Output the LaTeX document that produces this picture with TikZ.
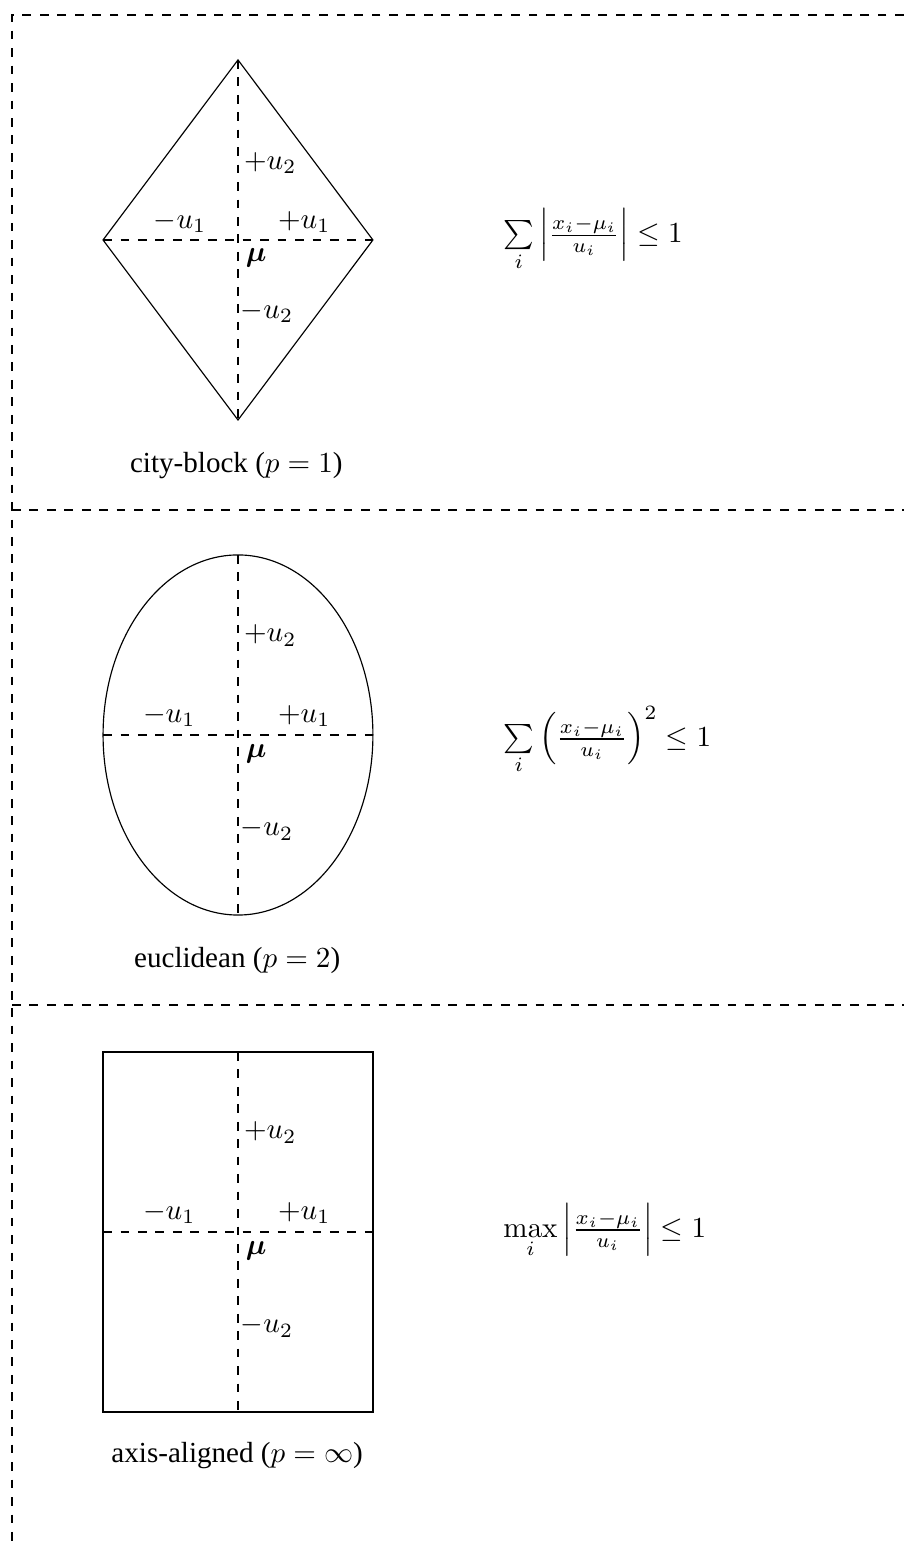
\documentclass[tikz,border=0pt]{standalone}
\usepackage[no-math]{fontspec}
\setmainfont{Liberation Serif}
\usepackage{amsmath,bm}
\usetikzlibrary{positioning, calc}
\tikzset{
  outline/.style={draw=black, line width=0.4pt},
  axis/.style={draw=black, dashed, line width=0.4pt},
  frame/.style={draw=black, dashed, line width=0.4pt},
  lbl/.style={inner sep=0pt, font=\normalsize},
  formula/.style={anchor=west, inner sep=0pt},
  caption/.style={inner sep=0pt, align=center},
}

\begin{document}
\begin{tikzpicture}
  \useasboundingbox (0,0) rectangle (10.92,18.64);

  % dashed frame and separators
  \coordinate (tl) at (0.145,18.459);
  \coordinate (tr) at (10.92,18.459);
  \coordinate (bl) at (0.145,0);
  \coordinate (s1l) at (0.145,12.479);
  \coordinate (s1r) at (10.92,12.479);
  \coordinate (s2l) at (0.145,6.50);
  \coordinate (s2r) at (10.92,6.50);
  \draw[frame] (tr) -- (tl) -- (bl);
  \draw[frame] (s1l) -- (s1r);
  \draw[frame] (s2l) -- (s2r);

  % city-block
  \begin{scope}[shift={(2.875,15.741)}]
    \coordinate (dc) at (0,0);
    \coordinate (dt) at (0,2.175);
    \coordinate (db) at (0,-2.175);
    \coordinate (dl) at (-1.63,0);
    \coordinate (dr) at (1.63,0);
    \draw[outline] (dt) -- (dr) -- (db) -- (dl) -- cycle;
    \draw[axis] (dl) -- (dr);
    \draw[axis] (dt) -- (db);
    \node[lbl] (d-pu2) at (0.39,0.93) {$+u_2$};
    \node[lbl] (d-mu2) at (0.35,-0.87) {$-u_2$};
    \node[lbl] (d-mu1) at (-0.70,0.22) {$-u_1$};
    \node[lbl] (d-pu1) at (0.80,0.22) {$+u_1$};
    \node[lbl] (d-mu) at (0.22,-0.22) {$\bm{\mu}$};
    \node[formula] (d-eq) at (3.20,0.0)
      {$\sum\limits_i \left|\frac{x_i-\mu_i}{u_i}\right| \leq 1$};
    \node[caption] (d-cap) at (-0.02,-2.72) {city-block ($p=1$)};
  \end{scope}

  % euclidean
  \begin{scope}[shift={(2.875,9.761)}]
    \coordinate (ec) at (0,0);
    \coordinate (et) at (0,2.175);
    \coordinate (eb) at (0,-2.175);
    \coordinate (el) at (-1.63,0);
    \coordinate (er) at (1.63,0);
    \draw[outline] (ec) ellipse [x radius=1.63, y radius=2.175];
    \draw[axis] (el) -- (er);
    \draw[axis] (et) -- (eb);
    \node[lbl] (e-pu2) at (0.39,1.20) {$+u_2$};
    \node[lbl] (e-mu2) at (0.35,-1.14) {$-u_2$};
    \node[lbl] (e-mu1) at (-0.83,0.23) {$-u_1$};
    \node[lbl] (e-pu1) at (0.80,0.23) {$+u_1$};
    \node[lbl] (e-mu) at (0.22,-0.23) {$\bm{\mu}$};
    \node[formula] (e-eq) at (3.20,-0.07)
      {$\sum\limits_i \left(\frac{x_i-\mu_i}{u_i}\right)^2 \leq 1$};
    \node[caption] (e-cap) at (-0.01,-2.72) {euclidean ($p=2$)};
  \end{scope}

  % axis-aligned
  \begin{scope}[shift={(2.875,3.757)}]
    \coordinate (rc) at (0,0);
    \coordinate (rt) at (0,2.175);
    \coordinate (rb) at (0,-2.175);
    \coordinate (rl) at (-1.63,0);
    \coordinate (rr) at (1.63,0);
    \draw[outline] (-1.63,-2.175) rectangle (1.63,2.175);
    \draw[axis] (rl) -- (rr);
    \draw[axis] (rt) -- (rb);
    \node[lbl] (r-pu2) at (0.39,1.20) {$+u_2$};
    \node[lbl] (r-mu2) at (0.35,-1.14) {$-u_2$};
    \node[lbl] (r-mu1) at (-0.83,0.23) {$-u_1$};
    \node[lbl] (r-pu1) at (0.80,0.23) {$+u_1$};
    \node[lbl] (r-mu) at (0.22,-0.23) {$\bm{\mu}$};
    \node[formula] (r-eq) at (3.20,0.01)
      {$\max\limits_i \left|\frac{x_i-\mu_i}{u_i}\right| \leq 1$};
    \node[caption] (r-cap) at (-0.01,-2.70) {axis-aligned ($p=\infty$)};
  \end{scope}
\end{tikzpicture}
\end{document}
